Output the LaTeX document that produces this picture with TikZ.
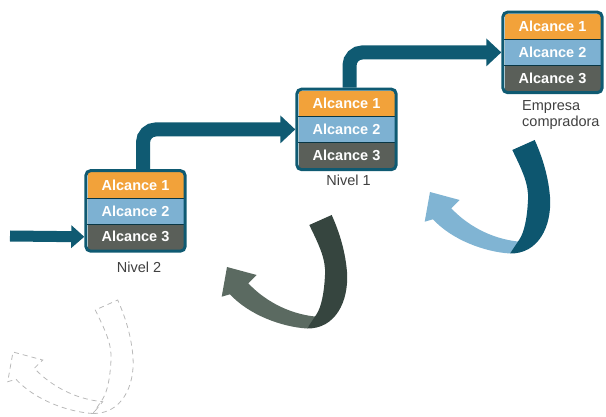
\documentclass[tikz,border=0pt]{standalone}
\usepackage{fontspec}
\setmainfont{Liberation Sans}
\usetikzlibrary{arrows.meta,fit}
\definecolor{teal1}{HTML}{0F5A72}
\definecolor{orng}{HTML}{F2A23A}
\definecolor{lblue}{HTML}{7DB1D2}
\definecolor{dgray}{HTML}{5A5F59}
\definecolor{txtgray}{HTML}{404040}
\definecolor{darkA}{HTML}{36453F}
\definecolor{darkB}{HTML}{5B6A61}
\definecolor{blueA}{HTML}{0D566F}
\definecolor{blueB}{HTML}{80B4D3}
\newcommand\urightpath{(80,61.5) .. controls (108,62) and (122,35) .. (120,5) .. controls (118,-20) and (110,-40) .. (104.7,-52) -- (82.3,-42) .. controls (92,-22) and (99,-8) .. (98,8) .. controls (97,28) and (94,40) .. (89.7,47) -- cycle}
\newcommand\uleftpath{(80,61.5) .. controls (55,60) and (22,48) .. (3,27.3) -- (-5.3,29.7) -- (0,0) -- (29.7,8) -- (21.3,16.3) .. controls (36,32) and (60,47) .. (89.7,49.7) -- cycle}
\newcommand\alcbox[2]{%
  \node[row,fill=orng] (#1a) at (#2) {Alcance 1};
  \node[row,fill=lblue,anchor=north] (#1b) at (#1a.south) {Alcance 2};
  \node[row,fill=dgray,anchor=north] (#1c) at (#1b.south) {Alcance 3};
  \draw[sep] (#1a.south west) -- (#1a.south east);
  \draw[sep] (#1b.south west) -- (#1b.south east);
  \node[frame,fit=(#1a)(#1c)] (#1) {};
}
\begin{document}
\begin{tikzpicture}[x=1pt,y=-1pt,
  row/.style={minimum width=96pt,minimum height=25.5pt,inner sep=0pt,text=white,
    font=\fontsize{14.5}{16}\selectfont\bfseries},
  sep/.style={draw=teal1!60!black,line width=0.6pt},
  frame/.style={draw=teal1,line width=3pt,rounded corners=5pt,inner sep=1.5pt},
  lbl/.style={text=txtgray,font=\fontsize{14.5}{16}\selectfont},
  conn/.style={draw=teal1,line width=14pt,rounded corners=13pt,
    -{Triangle[length=15pt,width=27pt]}},
  dashline/.style={draw=gray!55,line width=0.8pt,dash pattern=on 5pt off 4pt},
]
\useasboundingbox (0,0) rectangle (606,417);

% boxes
\alcbox{b1}{135.5,185}
\alcbox{b2}{346.5,103.5}
\alcbox{b3}{552.5,26.5}

% connectors
\coordinate (in) at (10,236);
\draw[conn,line width=11pt,-{Triangle[length=13pt,width=22pt]}] (in) -- (b1.west |- b1c.west);
\draw[conn] ([xshift=7.5pt]b1.north) |- (b2.west);
\draw[conn] ([xshift=3pt]b2.north) |- (b3.west);

% labels
\node[lbl] (n2) at (139,267) {Nivel 2};
\node[lbl] (n1) at (348.5,180) {Nivel 1};
\node[lbl,align=left,anchor=north west,inner sep=0pt] (emp) at (522,100) {Empresa\\compradora};

% curved arrows
\begin{scope}[shift={(227,267)}]
  \fill[darkB] \uleftpath;
  \fill[darkA] \urightpath;
\end{scope}
\begin{scope}[shift={(430,192)}]
  \fill[blueB] \uleftpath;
  \fill[blueA] \urightpath;
\end{scope}
\begin{scope}[shift={(13,352)}]
  \draw[dashline] \uleftpath;
  \draw[dashline] \urightpath;
\end{scope}
\end{tikzpicture}
\end{document}
